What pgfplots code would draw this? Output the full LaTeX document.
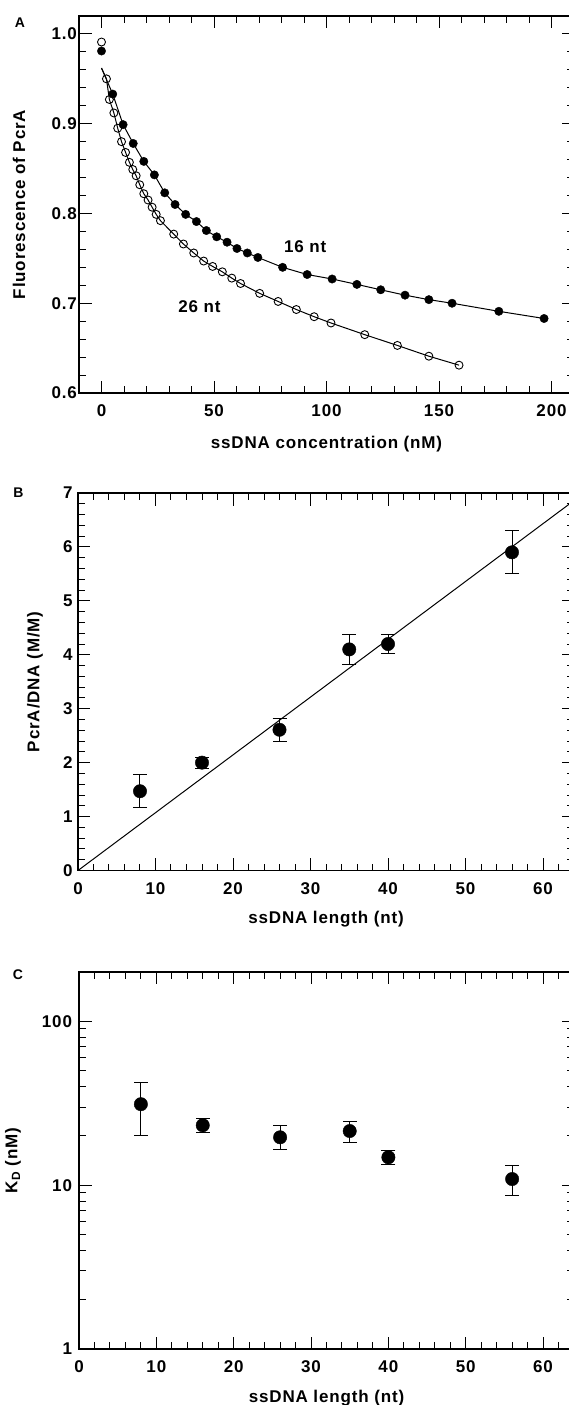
\documentclass[border=0pt]{standalone}
\usepackage{pgfplots}
\pgfplotsset{compat=1.18}
\usepackage{fontspec}
\setmainfont{Liberation Sans}[LetterSpace=5]
\pgfplotstableread{
x y
0 0.981
5.0 0.933
9.6 0.899
14.1 0.878
18.8 0.858
23.5 0.843
28.1 0.823
32.7 0.810
37.4 0.799
42.2 0.791
46.6 0.781
51.2 0.774
55.8 0.768
60.2 0.761
64.8 0.756
69.5 0.751
80.5 0.740
91.4 0.732
102.5 0.727
113.5 0.721
124.1 0.715
134.9 0.709
145.5 0.704
155.8 0.700
176.6 0.691
196.7 0.683
}\filled
\pgfplotstableread{
x y
0 0.991
2.2 0.950
3.5 0.927
5.5 0.912
7.2 0.895
8.9 0.880
10.7 0.868
12.4 0.857
13.9 0.849
15.4 0.842
17.0 0.832
18.8 0.822
20.7 0.815
22.5 0.807
24.3 0.799
26.2 0.792
32.1 0.777
36.4 0.766
41.0 0.756
45.4 0.747
49.4 0.741
53.7 0.735
57.9 0.728
61.8 0.722
70.3 0.711
78.5 0.702
86.6 0.693
94.5 0.685
102.0 0.678
117.0 0.665
131.5 0.653
145.5 0.641
158.9 0.631
}\opencirc
\pgfplotstableread{
x y ep em
8 1.47 0.31 0.31
16 2.00 0.10 0.10
26 2.61 0.21 0.21
35 4.10 0.27 0.28
40 4.20 0.17 0.17
56 5.90 0.41 0.40
}\ratio
\pgfplotstableread{
x y lo hi
8 31.2 20.2 42.2
16 23.2 21.1 25.5
26 19.6 16.4 23.1
35 21.4 18.2 24.3
40 14.8 13.3 16.2
56 10.9 8.7 13.1
}\kd
\begin{document}
\begin{tikzpicture}
\useasboundingbox (0pt,0pt) rectangle (569pt,-1405pt);
\pgfplotsset{
  myax/.style={
    scale only axis,
    anchor=north west,
    axis line style={line width=1.3pt},
    tick align=inside,
    major tick length=12.5pt,
    minor tick length=7pt,
    every tick/.style={black, line width=1pt},
    tick label style={font=\fontsize{17}{19}\selectfont\bfseries},
    xticklabel style={anchor=base, yshift=-23.5pt},
    label style={font=\fontsize{17}{19}\selectfont\bfseries},
    /pgf/number format/assume math mode=true,
    clip=false,
  },
}
\node[font=\fontsize{14}{16}\selectfont\bfseries] at (20pt,-23pt) {A};
\node[font=\fontsize{14}{16}\selectfont\bfseries] at (18.5pt,-493pt) {B};
\node[font=\fontsize{14}{16}\selectfont\bfseries] at (18pt,-975pt) {C};
% Panel A
\begin{axis}[myax, at={(79pt,-16pt)}, width=495pt, height=377pt,
  xmin=-10, xmax=210, ymin=0.6, ymax=1.02,
  xtick={0,50,100,150,200}, xticklabels={0,50,100,150,200},
  minor xtick={10,20,30,40,60,70,80,90,110,120,130,140,160,170,180,190},
  ytick={0.6,0.7,0.8,0.9,1.0}, yticklabels={0.6,0.7,0.8,0.9,1.0},
  minor ytick={0.62,0.64,0.66,0.68,0.72,0.74,0.76,0.78,0.82,0.84,0.86,0.88,0.92,0.94,0.96,0.98},
  yticklabel style={anchor=east, xshift=1.5pt},
  xlabel={ssDNA concentration (nM)},
  ylabel={Fluorescence of PcrA},
  xlabel style={at={(axis description cs:0.5,0)}, anchor=base, yshift=-55pt},
  ylabel style={at={(axis description cs:-0.1212,0.5)}, anchor=center},
]
\addplot[black, line width=1pt] table[x=x,y=y, skip coords between index={0}{1}] {\filled};
\addplot[black, line width=1pt] coordinates {(0,0.962) (5.0,0.933)};
\addplot[black, line width=1pt] table[x=x,y=y, skip coords between index={0}{1}] {\opencirc};
\addplot[black, line width=1pt] coordinates {(0,0.962) (2.2,0.950)};
\addplot[only marks, mark=o, mark size=4pt, mark options={fill=white, line width=0.9pt}] table[x=x,y=y] {\opencirc};
\addplot[only marks, mark=*, mark size=4.2pt, mark options={fill=black}] table[x=x,y=y] {\filled};
\node[font=\fontsize{17}{19}\selectfont\bfseries] at (axis cs:90.5,0.763) {16 nt};
\node[font=\fontsize{17}{19}\selectfont\bfseries] at (axis cs:43.5,0.696) {26 nt};
\end{axis}
% Panel B
\begin{axis}[myax, at={(78pt,-493pt)}, width=496pt, height=377.5pt,
  xmin=0, xmax=64, ymin=0, ymax=7,
  xtick={0,10,...,60}, xticklabels={0,10,20,30,40,50,60},
  minor xtick={2,4,...,62},
  ytick={0,1,...,7}, yticklabels={0,1,2,3,4,5,6,7},
  minor ytick={0.2,0.4,...,6.9},
  yticklabel style={anchor=east, xshift=-2pt},
  xlabel={ssDNA length (nt)},
  ylabel={PcrA/DNA (M/M)},
  xlabel style={at={(axis description cs:0.5,0)}, anchor=base, yshift=-53pt},
  ylabel style={at={(axis description cs:-0.0867,0.5)}, anchor=center},
]
\addplot[black, line width=1pt] coordinates {(0,0) (64,6.86)};
\addplot[only marks, mark=*, mark size=6.7pt, mark options={fill=black},
  error bars/.cd, y dir=both, y explicit,
  error bar style={line width=1pt, black},
  error mark options={rotate=90, mark size=7pt, line width=1pt, black}]
  table[x=x, y=y, y error plus=ep, y error minus=em] {\ratio};
\end{axis}
% Panel C
\begin{axis}[myax, at={(79pt,-972pt)}, width=495pt, height=377pt,
  ymode=log,
  xmin=0, xmax=64, ymin=1, ymax=200,
  xtick={0,10,...,60}, xticklabels={0,10,20,30,40,50,60},
  minor xtick={2,4,...,62},
  ytick={1,10,100}, yticklabels={1,10,100},
  minor ytick={2,3,4,5,6,7,8,9,20,30,40,50,60,70,80,90},
  yticklabel style={anchor=east, xshift=-3.5pt},
  xlabel={ssDNA length (nt)},
  ylabel={K\textsubscript{D} (nM)},
  xlabel style={at={(axis description cs:0.5,0)}, anchor=base, yshift=-53pt},
  ylabel style={at={(axis description cs:-0.1333,0.5)}, anchor=center},
]
\addplot[black, line width=1pt, unbounded coords=jump] coordinates {
(8,20.2) (8,42.2) (8,nan)
(16,21.1) (16,25.5) (16,nan)
(26,16.4) (26,23.1) (26,nan)
(35,18.2) (35,24.3) (35,nan)
(40,13.3) (40,16.2) (40,nan)
(56,8.7) (56,13.1)};
\addplot[only marks, mark=-, mark size=7pt, mark options={line width=1pt}] table[x=x,y=lo] {\kd};
\addplot[only marks, mark=-, mark size=7pt, mark options={line width=1pt}] table[x=x,y=hi] {\kd};
\addplot[only marks, mark=*, mark size=6.7pt, mark options={fill=black}] table[x=x,y=y] {\kd};
\end{axis}
\end{tikzpicture}
\end{document}
